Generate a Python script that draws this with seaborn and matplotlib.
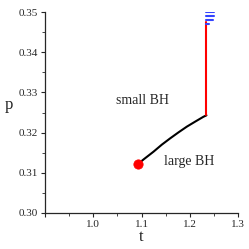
import seaborn as sns
import pandas as pd
import matplotlib.pyplot as plt
from matplotlib.ticker import MultipleLocator

# coexistence curve (black)
curve_t = [1.0917, 1.1050, 1.1248, 1.1420, 1.1594, 1.1770, 1.1940, 1.2120, 1.2284, 1.2345]
curve_p = [0.3121, 0.3134, 0.31525, 0.3170, 0.31858, 0.3201, 0.3215, 0.3228, 0.32396, 0.3243]

# red vertical branch
red_t = [1.2345, 1.2345]
red_p = [0.3243, 0.3476]

# critical point
crit_t = [1.0917]
crit_p = [0.3121]

# blue dashes at the top
blue_p = [0.3500, 0.3491, 0.3481, 0.3471]
blue_t0 = [1.2345, 1.2345, 1.2345, 1.2345]
blue_t1 = [1.2505, 1.2505, 1.2480, 1.2400]

sns.set_theme(style="ticks")
plt.rcParams['font.family'] = ['Liberation Serif', 'DejaVu Serif']

fig = plt.figure(figsize=(2.49, 2.49), dpi=100)
ax = fig.add_axes([0.181, 0.145, 0.775, 0.806])

df_curve = pd.DataFrame({"t": curve_t, "p": curve_p})
sns.lineplot(data=df_curve, x="t", y="p", sort=False, estimator=None,
             color="black", linewidth=1.5, ax=ax)

df_red = pd.DataFrame({"t": red_t, "p": red_p})
sns.lineplot(data=df_red, x="t", y="p", sort=False, estimator=None,
             color="red", linewidth=1.5, ax=ax)

for p, a, b in zip(blue_p, blue_t0, blue_t1):
    seg = pd.DataFrame({"t": [a, b], "p": [p, p]})
    sns.lineplot(data=seg, x="t", y="p", sort=False, estimator=None,
                 color="#3344ff", linewidth=1.5, ax=ax)

sns.scatterplot(x=crit_t, y=crit_p, color="red", s=45, edgecolor="red", zorder=5, ax=ax)

ax.text(1.102, 0.3281, "small BH", fontsize=10, ha="center", va="center")
ax.text(1.199, 0.3129, "large BH", fontsize=10, ha="center", va="center")

ax.set_xlim(0.9, 1.3)
ax.set_ylim(0.30, 0.35)
ax.set_xticks([0.9, 1.0, 1.1, 1.2, 1.3])
ax.set_xticklabels(["", "1.0", "1.1", "1.2", "1.3"])
ax.set_yticks([0.30, 0.31, 0.32, 0.33, 0.34, 0.35])
ax.set_yticklabels(["0.30", "0.31", "0.32", "0.33", "0.34", "0.35"])
ax.xaxis.set_minor_locator(MultipleLocator(0.05))
ax.yaxis.set_minor_locator(MultipleLocator(0.005))
ax.tick_params(which="major", labelsize=8, length=3, width=0.8, pad=2)
ax.tick_params(which="minor", length=2, width=0.6)

ax.set_xlabel("t", fontsize=12, labelpad=0)
ax.set_ylabel("p", fontsize=12, rotation=0, labelpad=7)
sns.despine(ax=ax)
for s in ["left", "bottom"]:
    ax.spines[s].set_linewidth(0.9)

fig.savefig("out.png", dpi=100)
